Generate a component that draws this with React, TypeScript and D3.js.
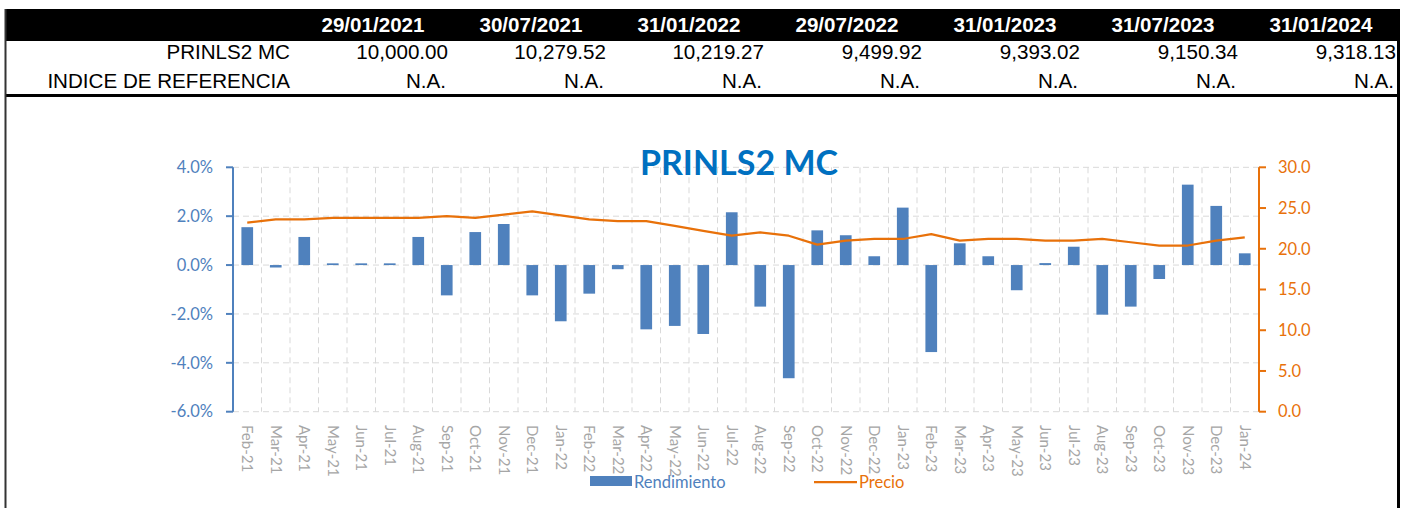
import React from 'react';
import * as d3 from 'd3';

const tableDates = ['29/01/2021', '30/07/2021', '31/01/2022', '29/07/2022', '31/01/2023', '31/07/2023', '31/01/2024'];
const fundRowLabel = 'PRINLS2 MC';
const fundValues = ['10,000.00', '10,279.52', '10,219.27', '9,499.92', '9,393.02', '9,150.34', '9,318.13'];
const indexRowLabel = 'INDICE DE REFERENCIA';
const indexValues = ['N.A.', 'N.A.', 'N.A.', 'N.A.', 'N.A.', 'N.A.', 'N.A.'];

const months = [
  'Feb-21', 'Mar-21', 'Apr-21', 'May-21', 'Jun-21', 'Jul-21', 'Aug-21', 'Sep-21', 'Oct-21', 'Nov-21', 'Dec-21', 'Jan-22',
  'Feb-22', 'Mar-22', 'Apr-22', 'May-22', 'Jun-22', 'Jul-22', 'Aug-22', 'Sep-22', 'Oct-22', 'Nov-22', 'Dec-22', 'Jan-23',
  'Feb-23', 'Mar-23', 'Apr-23', 'May-23', 'Jun-23', 'Jul-23', 'Aug-23', 'Sep-23', 'Oct-23', 'Nov-23', 'Dec-23', 'Jan-24',
];

// monthly return, %
const rendimiento = [
  1.55, -0.1, 1.15, 0.07, 0.07, 0.07, 1.15, -1.24, 1.35, 1.68, -1.24, -2.3,
  -1.17, -0.17, -2.63, -2.49, -2.82, 2.16, -1.7, -4.63, 1.42, 1.22, 0.36, 2.35,
  -3.56, 0.89, 0.36, -1.03, 0.08, 0.75, -2.03, -1.7, -0.57, 3.29, 2.42, 0.48,
];

// price, right axis
const precio = [
  23.2, 23.6, 23.6, 23.8, 23.8, 23.8, 23.8, 24.0, 23.8, 24.2, 24.6, 24.1,
  23.6, 23.4, 23.4, 22.8, 22.2, 21.6, 22.0, 21.6, 20.5, 21.0, 21.2, 21.2,
  21.8, 21.0, 21.2, 21.2, 21.0, 21.0, 21.2, 20.8, 20.4, 20.4, 21.0, 21.4,
];

const leftTicks = [-6, -4, -2, 0, 2, 4];
const rightTicks = [0, 5, 10, 15, 20, 25, 30];

const W = 1411;
const H = 508;
const BLUE = '#4F81BD';
const ORANGE = '#E8710A';
const GRID = '#D9D9D9';
const tableFont = '"Liberation Sans", Arial, sans-serif';
const chartFont = 'Lato, Calibri, "Open Sans", sans-serif';

// excel style: plain hyphen for negatives
const pct = (v: number) => d3.format('.1f')(v).replace('\u2212', '-') + '%';

const App: React.FC = () => {
  const plot = { left: 233, right: 1259, top: 167.3, bottom: 411.7 };

  const x = d3.scaleBand<string>().domain(months).range([plot.left, plot.right]).padding(0);
  const yL = d3.scaleLinear().domain([-6, 4]).range([plot.bottom, plot.top]);
  const yR = d3.scaleLinear().domain([0, 30]).range([plot.bottom, plot.top]);

  const bw = x.bandwidth();
  const barW = bw * 0.41;

  const line = d3
    .line<number>()
    .x((_, i) => x(months[i])! + bw / 2)
    .y(d => yR(d));

  // table column right edges
  const colX = d3.scalePoint<string>().domain(tableDates).range([448, 1396]);
  const sx = 1.03;

  return (
    <svg width={W} height={H} style={{ position: 'absolute', left: 0, top: 0, display: 'block', background: '#fff' }}>
      {/* table */}
      <rect x={5} y={9} width={1395} height={32} fill="#000" />
      <g transform={`scale(${sx},1)`} fontFamily={tableFont}>
        {tableDates.map(d => (
          <text key={d} x={(colX(d)! - 75) / sx} y={32} textAnchor="middle" fill="#fff" fontWeight="bold" fontSize={20}>
            {d}
          </text>
        ))}
        <text x={290 / sx} y={59} textAnchor="end" fontSize={20} fill="#000">{fundRowLabel}</text>
        <text x={290 / sx} y={88} textAnchor="end" fontSize={20} fill="#000">{indexRowLabel}</text>
        {fundValues.map((v, i) => (
          <text key={'f' + i} x={colX(tableDates[i])! / sx} y={59} textAnchor="end" fontSize={20} fill="#000">{v}</text>
        ))}
        {indexValues.map((v, i) => (
          <text key={'n' + i} x={(colX(tableDates[i])! - 2) / sx} y={88} textAnchor="end" fontSize={20} fill="#000">{v}</text>
        ))}
      </g>
      <line x1={5} x2={1400} y1={95.5} y2={95.5} stroke="#000" strokeWidth={3} />
      <line x1={5.5} x2={5.5} y1={9} y2={H} stroke="#333" strokeWidth={2} />
      <line x1={1398.5} x2={1398.5} y1={9} y2={H} stroke="#000" strokeWidth={3} />

      {/* grid */}
      <g stroke={GRID} strokeWidth={1} strokeDasharray="6,4">
        {leftTicks.map(t => (
          <line key={'h' + t} x1={plot.left} x2={plot.right} y1={yL(t)} y2={yL(t)} />
        ))}
        {months.slice(1).map(m => (
          <line key={'v' + m} x1={x(m)!} x2={x(m)!} y1={plot.top} y2={plot.bottom} />
        ))}
      </g>

      {/* title */}
      <text x={739} y={175} textAnchor="middle" fontFamily={chartFont} fontWeight="bold" fontSize={34} fill="#0070C0">
        PRINLS2 MC
      </text>

      {/* bars */}
      {rendimiento.map((v, i) => (
        <rect
          key={'b' + i}
          x={x(months[i])! + (bw - barW) / 2}
          y={yL(Math.max(0, v))}
          width={barW}
          height={Math.abs(yL(v) - yL(0))}
          fill={BLUE}
        />
      ))}

      {/* price line */}
      <path d={line(precio) || ''} fill="none" stroke={ORANGE} strokeWidth={2.25} strokeLinejoin="round" />

      {/* left axis */}
      <line x1={plot.left} x2={plot.left} y1={plot.top} y2={plot.bottom} stroke={BLUE} strokeWidth={2} />
      {leftTicks.map(t => (
        <g key={'lt' + t}>
          <line x1={plot.left - 7} x2={plot.left} y1={yL(t)} y2={yL(t)} stroke={BLUE} strokeWidth={2} />
          <text x={213} y={yL(t)} dy="0.35em" textAnchor="end" fontFamily={chartFont} fontSize={16.5} fill={BLUE}>
            {pct(t)}
          </text>
        </g>
      ))}

      {/* right axis */}
      <line x1={plot.right} x2={plot.right} y1={plot.top} y2={plot.bottom} stroke={ORANGE} strokeWidth={2} />
      {rightTicks.map(t => (
        <g key={'rt' + t}>
          <line x1={plot.right} x2={plot.right + 7} y1={yR(t)} y2={yR(t)} stroke={ORANGE} strokeWidth={2} />
          <text x={1278} y={yR(t)} dy="0.35em" textAnchor="start" fontFamily={chartFont} fontSize={16.5} fill={ORANGE}>
            {d3.format('.1f')(t)}
          </text>
        </g>
      ))}

      {/* x labels */}
      {months.map(m => (
        <text
          key={'x' + m}
          transform={`translate(${x(m)! + bw / 2},425) rotate(90)`}
          dy="0.35em"
          textAnchor="start"
          fontFamily={chartFont}
          fontSize={15}
          fill="#A6A6A6"
        >
          {m}
        </text>
      ))}

      {/* legend */}
      <rect x={590} y={476} width={42} height={10} fill={BLUE} />
      <text x={634} y={488} fontFamily={chartFont} fontSize={16.5} fill={BLUE}>Rendimiento</text>
      <line x1={814} x2={857} y1={482} y2={482} stroke={ORANGE} strokeWidth={2.25} />
      <text x={859} y={488} fontFamily={chartFont} fontSize={16.5} fill={ORANGE}>Precio</text>
    </svg>
  );
};

export default App;
